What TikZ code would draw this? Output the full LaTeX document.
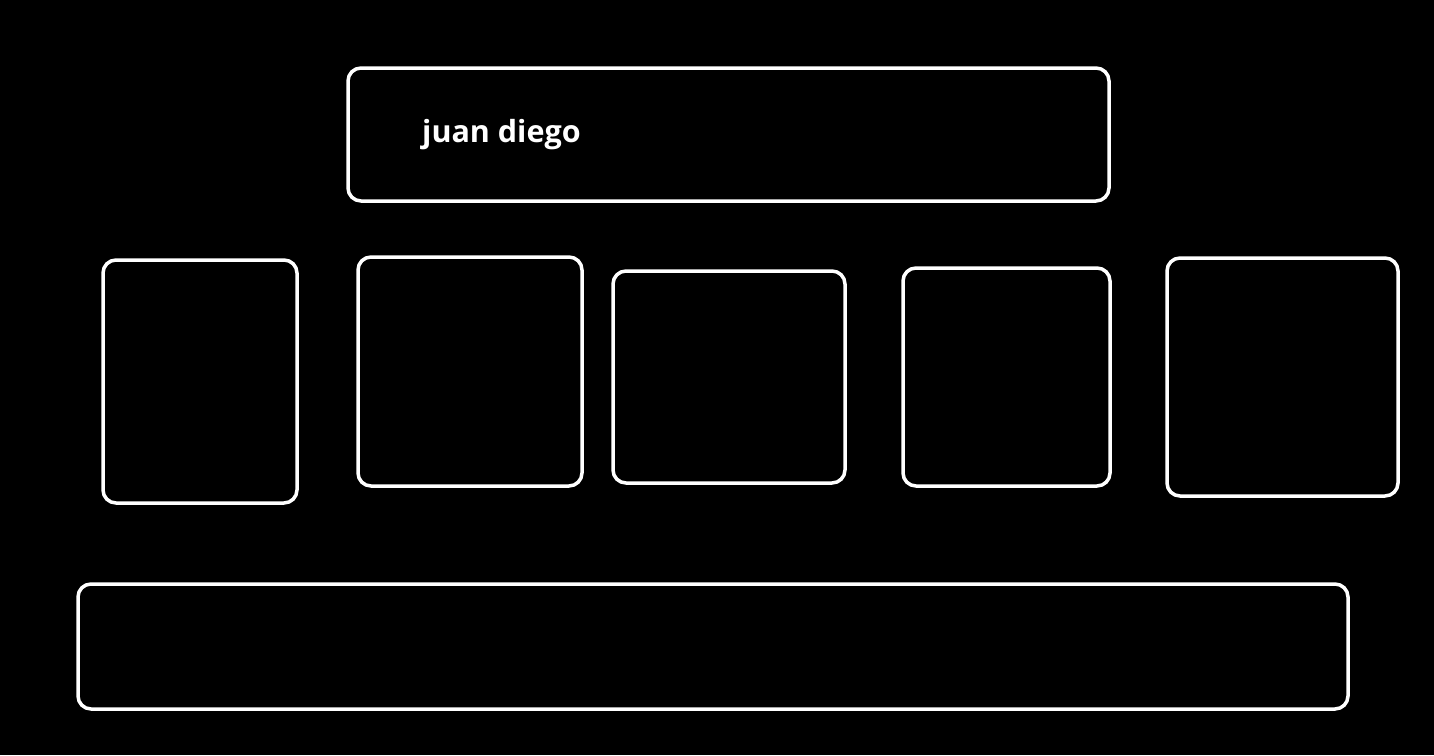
\documentclass[tikz,border=0pt]{standalone}
\usepackage{fontspec}
\newfontfamily\lblfont{Open Sans}
\begin{document}
\begin{tikzpicture}[x=1pt,y=-1pt,
  box/.style={draw=white,line width=3.5pt,rounded corners=13pt},
  lbl/.style={text=white,font=\lblfont\fontsize{30.5}{33}\selectfont\bfseries,anchor=base west,inner sep=0pt}]
\fill[black] (0,0) rectangle (1434,755);
\useasboundingbox (0,0) rectangle (1434,755);
\draw[box] (348,68) rectangle (1109,201);
\node[lbl] (title) at (422,142) {juan diego};
\draw[box] (103,260) rectangle (297,503);
\draw[box] (358,257) rectangle (582,486);
\draw[box] (613,271) rectangle (845,483);
\draw[box] (903,268) rectangle (1110,486);
\draw[box] (1167,258) rectangle (1398,496);
\draw[box] (78,584) rectangle (1348,709);
\end{tikzpicture}
\end{document}
